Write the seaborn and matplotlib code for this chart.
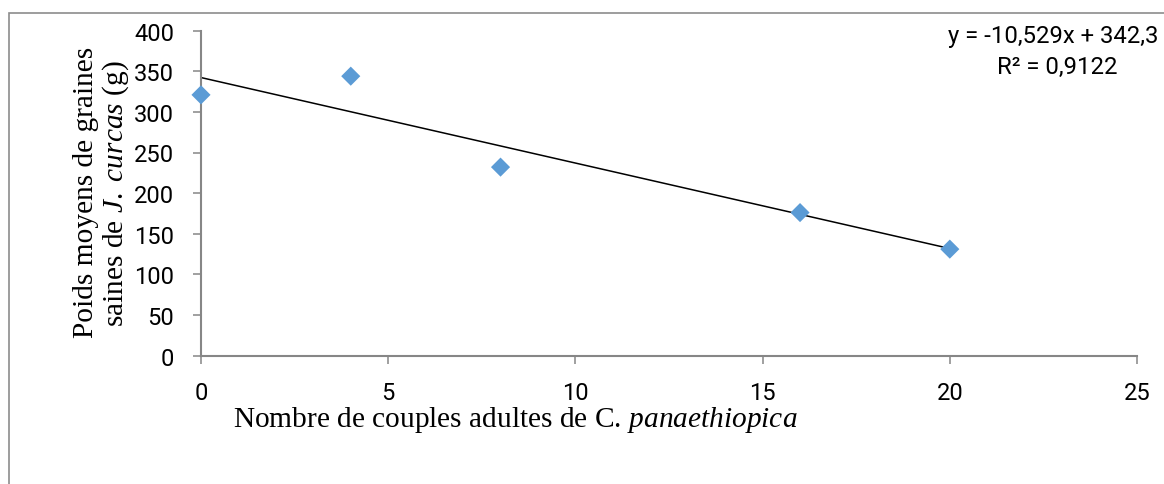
import numpy as np
import pandas as pd
import matplotlib
matplotlib.use("Agg")
import matplotlib.pyplot as plt
import matplotlib.patches as mpatches
import seaborn as sns

# Data
couples = [0, 4, 8, 16, 20]
poids = [321, 344, 232, 176, 131]
x_ticks = [0, 5, 10, 15, 20, 25]
y_ticks = [0, 50, 100, 150, 200, 250, 300, 350, 400]
equation_text = "y = -10,529x + 342,3"
r2_text = "R² = 0,9122"
slope = -10.529
intercept = 342.3

sns.set_theme(style="white")
plt.rcParams["mathtext.fontset"] = "custom"
plt.rcParams["mathtext.rm"] = "Liberation Serif"
plt.rcParams["mathtext.it"] = "Liberation Serif:italic"

df = pd.DataFrame({"couples": couples, "poids": poids})

W, H = 1164, 485
fig = plt.figure(figsize=(W / 100, H / 100), dpi=100)
ax = fig.add_axes([201 / W, 1 - 356.5 / H, (1137 - 201) / W, (356.5 - 31.7) / H])

# trend line
xl = np.array([min(couples), max(couples)], dtype=float)
sns.lineplot(x=xl, y=slope * xl + intercept, ax=ax, color="black", linewidth=1.1, zorder=2)
sns.scatterplot(data=df, x="couples", y="poids", ax=ax, marker="D", s=95,
                color="#5B9BD5", edgecolor="none", linewidth=0, zorder=3, clip_on=False)

ax.set_xlim(0, 25)
ax.set_ylim(0, 400)
ax.set_xticks(x_ticks)
ax.set_yticks(y_ticks)
tickfont = ["Roboto", "DejaVu Sans"]
ax.set_xticklabels([str(t) for t in x_ticks], fontsize=17, family=tickfont, color="black")
ax.set_yticklabels([str(t) for t in y_ticks], fontsize=17, family=tickfont, color="black")
ax.tick_params(axis="both", which="major", direction="out", length=5.8, width=1.1,
               color="#868686", bottom=True, left=True)
ax.tick_params(axis="x", pad=12.5)
ax.tick_params(axis="y", pad=13.5)
for s in ["top", "right"]:
    ax.spines[s].set_visible(False)
for s in ["left", "bottom"]:
    ax.spines[s].set_color("#868686")
    ax.spines[s].set_linewidth(1.5)
ax.set_xlabel("")
ax.set_ylabel("")
ax.grid(False)

serif = ["Liberation Serif", "DejaVu Serif"]
fig.text(515 / W, 1 - 420 / H, r"Nombre de couples adultes de C. $\mathit{panaethiopica}$",
         fontsize=21.2, family=serif, ha="center", va="center", color="black")
fig.text(86 / W, 1 - 192 / H, "Poids moyens de graines", rotation=90,
         fontsize=21.2, family=serif, ha="center", va="center", color="black")
fig.text(116 / W, 1 - 194 / H, r"saines de $\mathit{J.\ curcas}$ (g)", rotation=90,
         fontsize=21.2, family=serif, ha="center", va="center", color="black")

eqfont = ["Roboto", "DejaVu Sans"]
fig.text(948 / W, 1 - 37 / H, equation_text, fontsize=17.2, family=eqfont,
         ha="left", va="center", color="black")
fig.text(1057 / W, 1 - 67 / H, r2_text, fontsize=17.2, family=eqfont,
         ha="center", va="center", color="black")

# outer chart frame
frame = mpatches.Rectangle((8.5 / W, -0.1), 1.2, 1.1 - 13.7 / H, transform=fig.transFigure,
                           fill=False, edgecolor="#8c8c8c", linewidth=1.2, clip_on=False)
fig.add_artist(frame)

fig.savefig("out.png", dpi=100, facecolor="white")
